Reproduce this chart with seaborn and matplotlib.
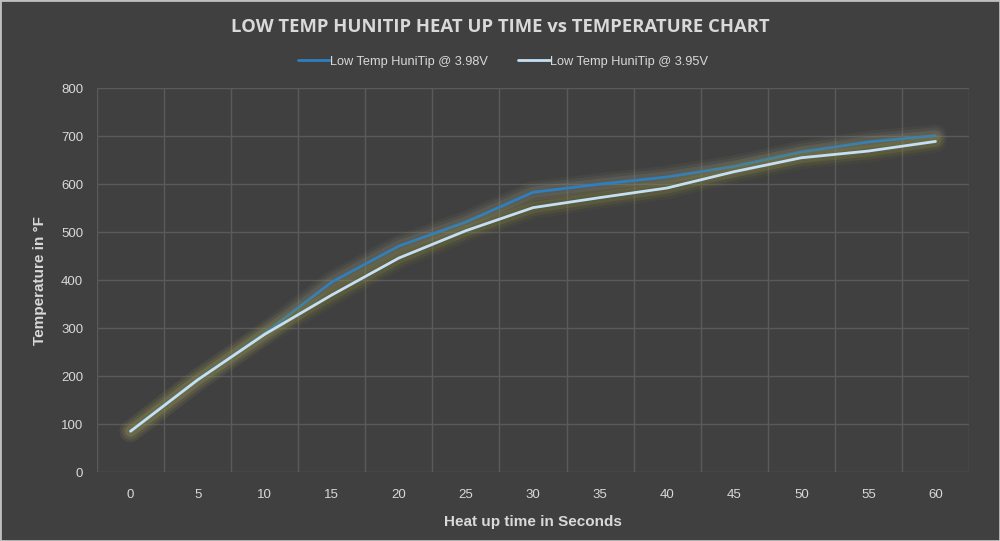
import numpy as np
import pandas as pd
import matplotlib
matplotlib.use("Agg")
import matplotlib.pyplot as plt
import matplotlib.patheffects as pe
import seaborn as sns

# heat up time (seconds) and temperature (°F)
seconds = [0, 5, 10, 15, 20, 25, 30, 35, 40, 45, 50, 55, 60]
temp_398v = [85, 192, 289, 396, 471, 521, 583, 600, 615, 637, 667, 688, 701]
temp_395v = [85, 192, 287, 369, 446, 503, 551, 572, 592, 626, 655, 669, 689]
series_names = ["Low Temp HuniTip @ 3.98V", "Low Temp HuniTip @ 3.95V"]

df = pd.DataFrame({
    "Seconds": seconds * 2,
    "Temperature": temp_398v + temp_395v,
    "Series": [series_names[0]] * len(seconds) + [series_names[1]] * len(seconds),
})

bg = "#404040"
grid_col = "#5a5a5a"
text_col = "#d9d9d9"
colors = {series_names[0]: "#2e7fc0", series_names[1]: "#c5e0f4"}

sns.set_theme(style="dark")
plt.rcParams["font.family"] = ["Liberation Sans", "DejaVu Sans"]

fig = plt.figure(figsize=(10, 5.41), dpi=100, facecolor=bg)
ax = fig.add_axes([0.097, 0.1275, 0.872, 0.7095])
ax.set_facecolor(bg)

sns.lineplot(data=df, x="Seconds", y="Temperature", hue="Series",
             palette=colors, linewidth=2, ax=ax, legend=False)

# soft glow under the lines (several wide translucent strokes)
glows = ["#8e8e7a", "#8c8a3c"]
for line, g in zip(ax.get_lines(), glows):
    line.set_path_effects([
        pe.Stroke(linewidth=16, foreground=g, alpha=0.08),
        pe.Stroke(linewidth=12, foreground=g, alpha=0.12),
        pe.Stroke(linewidth=8, foreground=g, alpha=0.2),
        pe.Normal(),
    ])

ax.set_xlim(-2.5, 62.5)
ax.set_ylim(0, 800)
ax.set_xticks(seconds)
ax.set_xticks(np.arange(-2.5, 63, 5), minor=True)
ax.set_yticks(range(0, 801, 100))
ax.grid(False)
ax.grid(which="minor", axis="x", color=grid_col, linewidth=1)
ax.grid(which="major", axis="y", color=grid_col, linewidth=1)
ax.set_axisbelow(True)
ax.tick_params(which="both", length=0, colors=text_col, labelsize=9.5)
ax.tick_params(axis="x", pad=12)
ax.tick_params(axis="y", pad=10)
for s in ax.spines.values():
    s.set_visible(False)

ax.set_xlabel("Heat up time in Seconds", color=text_col, fontsize=11,
              fontweight="bold", labelpad=10)
ax.set_ylabel("Temperature in °F", color=text_col, fontsize=11,
              fontweight="bold", labelpad=10)

fig.suptitle("LOW TEMP HUNITIP HEAT UP TIME vs TEMPERATURE CHART",
             x=0.5, y=0.967, color=text_col, fontsize=13.3, fontweight="bold",
             family=["Open Sans", "DejaVu Sans"])

handles = [plt.Line2D([], [], color=colors[n], linewidth=2) for n in series_names]
fig.legend(handles, series_names, loc="center", bbox_to_anchor=(0.503, 0.886),
           ncol=2, frameon=False, fontsize=9.2, labelcolor=text_col,
           handlelength=2.5, handletextpad=0.05, columnspacing=2.3)

# thin light border round the figure
fig.patches.append(plt.Rectangle((0, 0), 1, 1, transform=fig.transFigure,
                                 fill=False, edgecolor="#bfbfbf", linewidth=2))

fig.savefig("out.png", dpi=100, facecolor=bg)
